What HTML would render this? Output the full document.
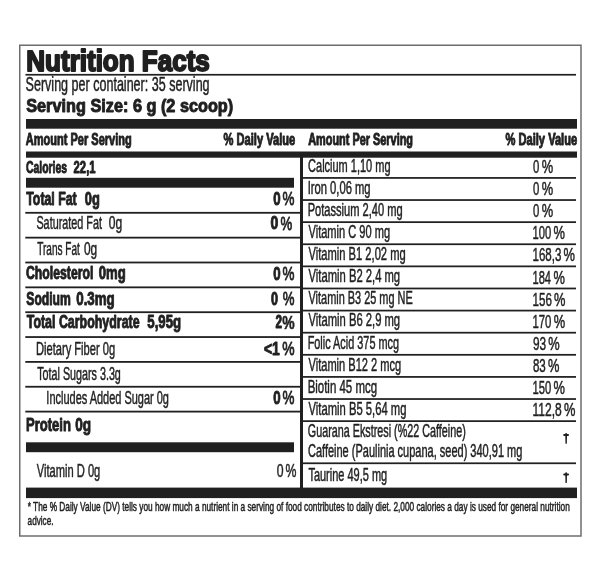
<!DOCTYPE html>
<html><head><meta charset="utf-8"><title>Nutrition Facts</title>
<style>
html,body{margin:0;padding:0;background:#fff;width:600px;height:586px;overflow:hidden;}
svg{display:block;font-family:"Liberation Sans",sans-serif;filter:grayscale(1);}
</style></head><body>
<svg width="600" height="586" viewBox="0 0 600 586" font-family="Liberation Sans, sans-serif">
<rect x="19.75" y="45.25" width="561.25" height="490.75" fill="none" stroke="#6d6d6d" stroke-width="1.5"/>
<rect x="25.50" y="73.90" width="550.50" height="1.70" fill="#231f20"/>
<rect x="26.00" y="119.00" width="551.00" height="9.70" fill="#231f20"/>
<rect x="26.00" y="151.50" width="551.00" height="6.20" fill="#231f20"/>
<rect x="300.00" y="157.00" width="3.00" height="331.00" fill="#231f20"/>
<rect x="26.00" y="177.80" width="268.00" height="9.90" fill="#231f20"/>
<rect x="25.30" y="211.90" width="275.00" height="1.80" fill="#231f20"/>
<rect x="25.30" y="236.75" width="275.00" height="1.80" fill="#231f20"/>
<rect x="25.30" y="261.60" width="275.00" height="1.80" fill="#231f20"/>
<rect x="25.30" y="286.45" width="275.00" height="1.80" fill="#231f20"/>
<rect x="25.30" y="311.30" width="275.00" height="1.80" fill="#231f20"/>
<rect x="25.30" y="336.15" width="275.00" height="1.80" fill="#231f20"/>
<rect x="25.30" y="361.00" width="275.00" height="1.80" fill="#231f20"/>
<rect x="25.30" y="385.85" width="275.00" height="1.80" fill="#231f20"/>
<rect x="25.30" y="410.70" width="275.00" height="1.80" fill="#231f20"/>
<rect x="26.00" y="442.30" width="268.00" height="9.90" fill="#231f20"/>
<rect x="303.00" y="177.05" width="273.00" height="1.75" fill="#231f20"/>
<rect x="303.00" y="199.16" width="273.00" height="1.75" fill="#231f20"/>
<rect x="303.00" y="221.27" width="273.00" height="1.75" fill="#231f20"/>
<rect x="303.00" y="243.38" width="273.00" height="1.75" fill="#231f20"/>
<rect x="303.00" y="265.49" width="273.00" height="1.75" fill="#231f20"/>
<rect x="303.00" y="287.60" width="273.00" height="1.75" fill="#231f20"/>
<rect x="303.00" y="309.71" width="273.00" height="1.75" fill="#231f20"/>
<rect x="303.00" y="331.82" width="273.00" height="1.75" fill="#231f20"/>
<rect x="303.00" y="353.93" width="273.00" height="1.75" fill="#231f20"/>
<rect x="303.00" y="376.04" width="273.00" height="1.75" fill="#231f20"/>
<rect x="303.00" y="398.15" width="273.00" height="1.75" fill="#231f20"/>
<rect x="303.00" y="420.26" width="273.00" height="1.75" fill="#231f20"/>
<rect x="303.00" y="462.40" width="273.00" height="1.75" fill="#231f20"/>
<path d="M565.25,433.40 Q566.15,432.40 567.05,433.40 L566.85,443.50 Q566.15,443.90 565.45,443.50 Z" fill="#231f20"/>
<rect x="563.2" y="434.10" width="5.8" height="1.85" rx="0.9" fill="#231f20"/>
<path d="M565.25,472.70 Q566.15,471.70 567.05,472.70 L566.85,482.70 Q566.15,483.10 565.45,482.70 Z" fill="#231f20"/>
<rect x="563.2" y="473.60" width="5.8" height="1.85" rx="0.9" fill="#231f20"/>
<rect x="26.00" y="487.60" width="551.00" height="10.50" fill="#231f20"/>
<text x="26.32" y="70.90" font-size="29.65" font-weight="700" fill="#231f20" stroke="#231f20" stroke-width="2.00" stroke-linejoin="round" textLength="183.50" lengthAdjust="spacingAndGlyphs">Nutrition Facts</text>
<text x="25.57" y="91.05" font-size="19.62" font-weight="400" fill="#231f20" stroke="#231f20" stroke-width="0.50" stroke-linejoin="round" textLength="184.03" lengthAdjust="spacingAndGlyphs">Serving per container: 35 serving</text>
<text x="26.20" y="111.83" font-size="17.95" font-weight="700" fill="#231f20" stroke="#231f20" stroke-width="0.95" stroke-linejoin="round" textLength="207.04" lengthAdjust="spacingAndGlyphs">Serving Size: 6 g (2 scoop)</text>
<text x="25.80" y="144.62" font-size="15.77" font-weight="700" fill="#231f20" stroke="#231f20" stroke-width="0.95" stroke-linejoin="round" textLength="105.89" lengthAdjust="spacingAndGlyphs">Amount Per Serving</text>
<text x="223.60" y="144.72" font-size="15.77" font-weight="700" fill="#231f20" stroke="#231f20" stroke-width="0.95" stroke-linejoin="round" textLength="71.69" lengthAdjust="spacingAndGlyphs">% Daily Value</text>
<text x="308.20" y="144.62" font-size="15.77" font-weight="700" fill="#231f20" stroke="#231f20" stroke-width="0.95" stroke-linejoin="round" textLength="104.79" lengthAdjust="spacingAndGlyphs">Amount Per Serving</text>
<text x="505.50" y="144.72" font-size="15.77" font-weight="700" fill="#231f20" stroke="#231f20" stroke-width="0.95" stroke-linejoin="round" textLength="71.69" lengthAdjust="spacingAndGlyphs">% Daily Value</text>
<text x="25.99" y="172.72" font-size="16.93" font-weight="700" fill="#231f20" stroke="#231f20" stroke-width="0.95" stroke-linejoin="round" textLength="41.08" lengthAdjust="spacingAndGlyphs">Calories</text>
<text x="73.60" y="172.72" font-size="16.93" font-weight="700" fill="#231f20" stroke="#231f20" stroke-width="0.95" stroke-linejoin="round" textLength="21.96" lengthAdjust="spacingAndGlyphs">22,1</text>
<text x="26.24" y="205.12" font-size="17.51" font-weight="700" fill="#231f20" stroke="#231f20" stroke-width="0.95" stroke-linejoin="round" textLength="50.50" lengthAdjust="spacingAndGlyphs">Total Fat</text>
<text x="84.76" y="205.12" font-size="17.51" font-weight="700" fill="#231f20" stroke="#231f20" stroke-width="0.95" stroke-linejoin="round" textLength="15.01" lengthAdjust="spacingAndGlyphs">0g</text>
<text x="273.25" y="205.12" font-size="17.51" font-weight="700" fill="#231f20" stroke="#231f20" stroke-width="0.95" stroke-linejoin="round" textLength="7.35" lengthAdjust="spacingAndGlyphs">0</text>
<text x="282.56" y="205.40" font-size="18.31" font-weight="400" fill="#231f20" stroke="#231f20" stroke-width="0.80" stroke-linejoin="round" textLength="11.95" lengthAdjust="spacingAndGlyphs">%</text>
<text x="36.39" y="229.45" font-size="17.73" font-weight="400" fill="#231f20" stroke="#231f20" stroke-width="0.50" stroke-linejoin="round" textLength="65.62" lengthAdjust="spacingAndGlyphs">Saturated Fat</text>
<text x="108.77" y="229.45" font-size="17.73" font-weight="400" fill="#231f20" stroke="#231f20" stroke-width="0.50" stroke-linejoin="round" textLength="13.44" lengthAdjust="spacingAndGlyphs">0g</text>
<text x="270.53" y="229.33" font-size="17.51" font-weight="700" fill="#231f20" stroke="#231f20" stroke-width="0.95" stroke-linejoin="round" textLength="7.79" lengthAdjust="spacingAndGlyphs">0</text>
<text x="280.56" y="229.60" font-size="18.31" font-weight="400" fill="#231f20" stroke="#231f20" stroke-width="0.80" stroke-linejoin="round" textLength="11.74" lengthAdjust="spacingAndGlyphs">%</text>
<text x="37.20" y="255.25" font-size="17.73" font-weight="400" fill="#231f20" stroke="#231f20" stroke-width="0.50" stroke-linejoin="round" textLength="42.61" lengthAdjust="spacingAndGlyphs">Trans Fat</text>
<text x="83.98" y="255.25" font-size="17.73" font-weight="400" fill="#231f20" stroke="#231f20" stroke-width="0.50" stroke-linejoin="round" textLength="13.23" lengthAdjust="spacingAndGlyphs">0g</text>
<text x="25.97" y="279.32" font-size="17.51" font-weight="700" fill="#231f20" stroke="#231f20" stroke-width="0.95" stroke-linejoin="round" textLength="67.46" lengthAdjust="spacingAndGlyphs">Cholesterol</text>
<text x="98.75" y="279.32" font-size="17.51" font-weight="700" fill="#231f20" stroke="#231f20" stroke-width="0.95" stroke-linejoin="round" textLength="26.94" lengthAdjust="spacingAndGlyphs">0mg</text>
<text x="273.25" y="279.52" font-size="17.51" font-weight="700" fill="#231f20" stroke="#231f20" stroke-width="0.95" stroke-linejoin="round" textLength="7.35" lengthAdjust="spacingAndGlyphs">0</text>
<text x="282.56" y="279.80" font-size="18.31" font-weight="400" fill="#231f20" stroke="#231f20" stroke-width="0.80" stroke-linejoin="round" textLength="11.95" lengthAdjust="spacingAndGlyphs">%</text>
<text x="26.30" y="304.72" font-size="17.51" font-weight="700" fill="#231f20" stroke="#231f20" stroke-width="0.95" stroke-linejoin="round" textLength="44.55" lengthAdjust="spacingAndGlyphs">Sodium</text>
<text x="76.25" y="304.72" font-size="17.51" font-weight="700" fill="#231f20" stroke="#231f20" stroke-width="0.95" stroke-linejoin="round" textLength="38.49" lengthAdjust="spacingAndGlyphs">0.3mg</text>
<text x="271.06" y="304.52" font-size="17.51" font-weight="700" fill="#231f20" stroke="#231f20" stroke-width="0.95" stroke-linejoin="round" textLength="7.03" lengthAdjust="spacingAndGlyphs">0</text>
<text x="282.76" y="304.80" font-size="18.31" font-weight="400" fill="#231f20" stroke="#231f20" stroke-width="0.80" stroke-linejoin="round" textLength="11.74" lengthAdjust="spacingAndGlyphs">%</text>
<text x="26.74" y="328.42" font-size="17.51" font-weight="700" fill="#231f20" stroke="#231f20" stroke-width="0.95" stroke-linejoin="round" textLength="112.86" lengthAdjust="spacingAndGlyphs">Total Carbohydrate</text>
<text x="147.30" y="328.42" font-size="17.51" font-weight="700" fill="#231f20" stroke="#231f20" stroke-width="0.95" stroke-linejoin="round" textLength="33.77" lengthAdjust="spacingAndGlyphs">5,95g</text>
<text x="275.50" y="328.42" font-size="17.51" font-weight="700" fill="#231f20" stroke="#231f20" stroke-width="0.95" stroke-linejoin="round" textLength="6.55" lengthAdjust="spacingAndGlyphs">2</text>
<text x="282.15" y="328.85" font-size="18.75" font-weight="700" fill="#231f20" stroke="#231f20" stroke-width="0.50" stroke-linejoin="round" textLength="12.40" lengthAdjust="spacingAndGlyphs">%</text>
<text x="35.96" y="354.85" font-size="17.73" font-weight="400" fill="#231f20" stroke="#231f20" stroke-width="0.50" stroke-linejoin="round" textLength="79.21" lengthAdjust="spacingAndGlyphs">Dietary Fiber 0g</text>
<text x="263.94" y="354.62" font-size="17.51" font-weight="700" fill="#231f20" stroke="#231f20" stroke-width="0.95" stroke-linejoin="round" textLength="15.73" lengthAdjust="spacingAndGlyphs">&lt;1</text>
<text x="282.15" y="354.90" font-size="18.31" font-weight="400" fill="#231f20" stroke="#231f20" stroke-width="0.80" stroke-linejoin="round" textLength="12.37" lengthAdjust="spacingAndGlyphs">%</text>
<text x="37.20" y="380.05" font-size="17.73" font-weight="400" fill="#231f20" stroke="#231f20" stroke-width="0.50" stroke-linejoin="round" textLength="83.65" lengthAdjust="spacingAndGlyphs">Total Sugars 3.3g</text>
<text x="46.37" y="403.55" font-size="17.73" font-weight="400" fill="#231f20" stroke="#231f20" stroke-width="0.50" stroke-linejoin="round" textLength="122.55" lengthAdjust="spacingAndGlyphs">Includes Added Sugar 0g</text>
<text x="273.25" y="403.52" font-size="17.51" font-weight="700" fill="#231f20" stroke="#231f20" stroke-width="0.95" stroke-linejoin="round" textLength="7.35" lengthAdjust="spacingAndGlyphs">0</text>
<text x="282.56" y="403.80" font-size="18.31" font-weight="400" fill="#231f20" stroke="#231f20" stroke-width="0.80" stroke-linejoin="round" textLength="11.95" lengthAdjust="spacingAndGlyphs">%</text>
<text x="26.00" y="431.32" font-size="17.51" font-weight="700" fill="#231f20" stroke="#231f20" stroke-width="0.95" stroke-linejoin="round" textLength="44.97" lengthAdjust="spacingAndGlyphs">Protein</text>
<text x="75.24" y="431.32" font-size="17.51" font-weight="700" fill="#231f20" stroke="#231f20" stroke-width="0.95" stroke-linejoin="round" textLength="15.86" lengthAdjust="spacingAndGlyphs">0g</text>
<text x="36.80" y="476.75" font-size="17.73" font-weight="400" fill="#262626" stroke="#262626" stroke-width="0.50" stroke-linejoin="round" textLength="63.50" lengthAdjust="spacingAndGlyphs">Vitamin D 0g</text>
<text x="276.78" y="476.75" font-size="18.46" font-weight="400" fill="#262626" stroke="#262626" stroke-width="0.50" stroke-linejoin="round" textLength="6.82" lengthAdjust="spacingAndGlyphs">0</text>
<text x="285.58" y="476.85" font-size="18.90" font-weight="400" fill="#262626" stroke="#262626" stroke-width="0.50" stroke-linejoin="round" textLength="10.92" lengthAdjust="spacingAndGlyphs">%</text>
<text x="308.08" y="171.65" font-size="17.59" font-weight="400" fill="#231f20" stroke="#231f20" stroke-width="0.50" stroke-linejoin="round" textLength="82.47" lengthAdjust="spacingAndGlyphs">Calcium 1,10 mg</text>
<text x="533.10" y="172.95" font-size="18.60" font-weight="400" fill="#231f20" stroke="#231f20" stroke-width="0.50" stroke-linejoin="round" textLength="6.31" lengthAdjust="spacingAndGlyphs">0</text>
<text x="541.77" y="173.05" font-size="19.04" font-weight="400" fill="#231f20" stroke="#231f20" stroke-width="0.50" stroke-linejoin="round" textLength="11.42" lengthAdjust="spacingAndGlyphs">%</text>
<text x="307.65" y="193.76" font-size="17.59" font-weight="400" fill="#231f20" stroke="#231f20" stroke-width="0.50" stroke-linejoin="round" textLength="62.91" lengthAdjust="spacingAndGlyphs">Iron 0,06 mg</text>
<text x="533.10" y="195.06" font-size="18.60" font-weight="400" fill="#231f20" stroke="#231f20" stroke-width="0.50" stroke-linejoin="round" textLength="6.31" lengthAdjust="spacingAndGlyphs">0</text>
<text x="541.77" y="195.16" font-size="19.04" font-weight="400" fill="#231f20" stroke="#231f20" stroke-width="0.50" stroke-linejoin="round" textLength="11.42" lengthAdjust="spacingAndGlyphs">%</text>
<text x="307.66" y="215.87" font-size="17.59" font-weight="400" fill="#231f20" stroke="#231f20" stroke-width="0.50" stroke-linejoin="round" textLength="95.05" lengthAdjust="spacingAndGlyphs">Potassium 2,40 mg</text>
<text x="533.10" y="217.17" font-size="18.60" font-weight="400" fill="#231f20" stroke="#231f20" stroke-width="0.50" stroke-linejoin="round" textLength="6.31" lengthAdjust="spacingAndGlyphs">0</text>
<text x="541.77" y="217.27" font-size="19.04" font-weight="400" fill="#231f20" stroke="#231f20" stroke-width="0.50" stroke-linejoin="round" textLength="11.42" lengthAdjust="spacingAndGlyphs">%</text>
<text x="308.50" y="237.98" font-size="17.59" font-weight="400" fill="#231f20" stroke="#231f20" stroke-width="0.50" stroke-linejoin="round" textLength="81.60" lengthAdjust="spacingAndGlyphs">Vitamin C 90 mg</text>
<text x="532.50" y="239.28" font-size="18.60" font-weight="400" fill="#231f20" stroke="#231f20" stroke-width="0.50" stroke-linejoin="round" textLength="18.72" lengthAdjust="spacingAndGlyphs">100</text>
<text x="553.58" y="239.38" font-size="19.04" font-weight="400" fill="#231f20" stroke="#231f20" stroke-width="0.50" stroke-linejoin="round" textLength="11.42" lengthAdjust="spacingAndGlyphs">%</text>
<text x="308.50" y="260.09" font-size="17.59" font-weight="400" fill="#231f20" stroke="#231f20" stroke-width="0.50" stroke-linejoin="round" textLength="97.18" lengthAdjust="spacingAndGlyphs">Vitamin B1 2,02 mg</text>
<text x="532.47" y="261.39" font-size="18.60" font-weight="400" fill="#231f20" stroke="#231f20" stroke-width="0.50" stroke-linejoin="round" textLength="28.86" lengthAdjust="spacingAndGlyphs">168,3</text>
<text x="563.58" y="261.49" font-size="19.04" font-weight="400" fill="#231f20" stroke="#231f20" stroke-width="0.50" stroke-linejoin="round" textLength="11.42" lengthAdjust="spacingAndGlyphs">%</text>
<text x="308.50" y="282.20" font-size="17.59" font-weight="400" fill="#231f20" stroke="#231f20" stroke-width="0.50" stroke-linejoin="round" textLength="91.63" lengthAdjust="spacingAndGlyphs">Vitamin B2 2,4 mg</text>
<text x="532.50" y="283.50" font-size="18.60" font-weight="400" fill="#231f20" stroke="#231f20" stroke-width="0.50" stroke-linejoin="round" textLength="18.51" lengthAdjust="spacingAndGlyphs">184</text>
<text x="553.38" y="283.60" font-size="19.04" font-weight="400" fill="#231f20" stroke="#231f20" stroke-width="0.50" stroke-linejoin="round" textLength="11.42" lengthAdjust="spacingAndGlyphs">%</text>
<text x="308.50" y="304.31" font-size="17.59" font-weight="400" fill="#231f20" stroke="#231f20" stroke-width="0.50" stroke-linejoin="round" textLength="104.25" lengthAdjust="spacingAndGlyphs">Vitamin B3 25 mg NE</text>
<text x="532.47" y="305.61" font-size="18.60" font-weight="400" fill="#231f20" stroke="#231f20" stroke-width="0.50" stroke-linejoin="round" textLength="19.37" lengthAdjust="spacingAndGlyphs">156</text>
<text x="553.98" y="305.71" font-size="19.04" font-weight="400" fill="#231f20" stroke="#231f20" stroke-width="0.50" stroke-linejoin="round" textLength="11.42" lengthAdjust="spacingAndGlyphs">%</text>
<text x="308.50" y="326.42" font-size="17.59" font-weight="400" fill="#231f20" stroke="#231f20" stroke-width="0.50" stroke-linejoin="round" textLength="91.63" lengthAdjust="spacingAndGlyphs">Vitamin B6 2,9 mg</text>
<text x="532.49" y="327.72" font-size="18.60" font-weight="400" fill="#231f20" stroke="#231f20" stroke-width="0.50" stroke-linejoin="round" textLength="18.94" lengthAdjust="spacingAndGlyphs">170</text>
<text x="553.77" y="327.82" font-size="19.04" font-weight="400" fill="#231f20" stroke="#231f20" stroke-width="0.50" stroke-linejoin="round" textLength="11.42" lengthAdjust="spacingAndGlyphs">%</text>
<text x="307.67" y="348.53" font-size="17.59" font-weight="400" fill="#231f20" stroke="#231f20" stroke-width="0.50" stroke-linejoin="round" textLength="91.36" lengthAdjust="spacingAndGlyphs">Folic Acid 375 mcg</text>
<text x="532.88" y="349.83" font-size="18.60" font-weight="400" fill="#231f20" stroke="#231f20" stroke-width="0.50" stroke-linejoin="round" textLength="13.16" lengthAdjust="spacingAndGlyphs">93</text>
<text x="548.18" y="349.93" font-size="19.04" font-weight="400" fill="#231f20" stroke="#231f20" stroke-width="0.50" stroke-linejoin="round" textLength="11.42" lengthAdjust="spacingAndGlyphs">%</text>
<text x="308.50" y="370.64" font-size="17.59" font-weight="400" fill="#231f20" stroke="#231f20" stroke-width="0.50" stroke-linejoin="round" textLength="92.76" lengthAdjust="spacingAndGlyphs">Vitamin B12 2 mcg</text>
<text x="532.89" y="371.94" font-size="18.60" font-weight="400" fill="#231f20" stroke="#231f20" stroke-width="0.50" stroke-linejoin="round" textLength="12.84" lengthAdjust="spacingAndGlyphs">83</text>
<text x="547.88" y="372.04" font-size="19.04" font-weight="400" fill="#231f20" stroke="#231f20" stroke-width="0.50" stroke-linejoin="round" textLength="11.42" lengthAdjust="spacingAndGlyphs">%</text>
<text x="307.63" y="392.75" font-size="17.59" font-weight="400" fill="#231f20" stroke="#231f20" stroke-width="0.50" stroke-linejoin="round" textLength="69.41" lengthAdjust="spacingAndGlyphs">Biotin 45 mcg</text>
<text x="532.50" y="394.05" font-size="18.60" font-weight="400" fill="#231f20" stroke="#231f20" stroke-width="0.50" stroke-linejoin="round" textLength="18.72" lengthAdjust="spacingAndGlyphs">150</text>
<text x="553.58" y="394.15" font-size="19.04" font-weight="400" fill="#231f20" stroke="#231f20" stroke-width="0.50" stroke-linejoin="round" textLength="11.42" lengthAdjust="spacingAndGlyphs">%</text>
<text x="308.50" y="414.86" font-size="17.59" font-weight="400" fill="#231f20" stroke="#231f20" stroke-width="0.50" stroke-linejoin="round" textLength="97.99" lengthAdjust="spacingAndGlyphs">Vitamin B5 5,64 mg</text>
<text x="532.44" y="416.16" font-size="18.60" font-weight="400" fill="#231f20" stroke="#231f20" stroke-width="0.50" stroke-linejoin="round" textLength="29.28" lengthAdjust="spacingAndGlyphs">112,8</text>
<text x="563.98" y="416.26" font-size="19.04" font-weight="400" fill="#231f20" stroke="#231f20" stroke-width="0.50" stroke-linejoin="round" textLength="11.42" lengthAdjust="spacingAndGlyphs">%</text>
<text x="307.79" y="437.05" font-size="17.59" font-weight="400" fill="#231f20" stroke="#231f20" stroke-width="0.50" stroke-linejoin="round" textLength="158.00" lengthAdjust="spacingAndGlyphs">Guarana Ekstresi (%22 Caffeine)</text>
<text x="307.98" y="457.35" font-size="17.59" font-weight="400" fill="#231f20" stroke="#231f20" stroke-width="0.50" stroke-linejoin="round" textLength="214.36" lengthAdjust="spacingAndGlyphs">Caffeine (Paulinia cupana, seed) 340,91 mg</text>
<text x="308.40" y="481.25" font-size="17.59" font-weight="400" fill="#231f20" stroke="#231f20" stroke-width="0.50" stroke-linejoin="round" textLength="78.76" lengthAdjust="spacingAndGlyphs">Taurine 49,5 mg</text>
<text x="27.70" y="510.95" font-size="12.35" font-weight="400" fill="#231f20" stroke="#231f20" stroke-width="0.50" stroke-linejoin="round" textLength="542.12" lengthAdjust="spacingAndGlyphs">* The % Daily Value (DV) tells you how much a nutrient in a serving of food contributes to daily diet. 2,000 calories a day is used for general nutrition</text>
<text x="27.58" y="524.75" font-size="12.35" font-weight="400" fill="#231f20" stroke="#231f20" stroke-width="0.50" stroke-linejoin="round" textLength="25.95" lengthAdjust="spacingAndGlyphs">advice.</text>
</svg>
</body></html>
